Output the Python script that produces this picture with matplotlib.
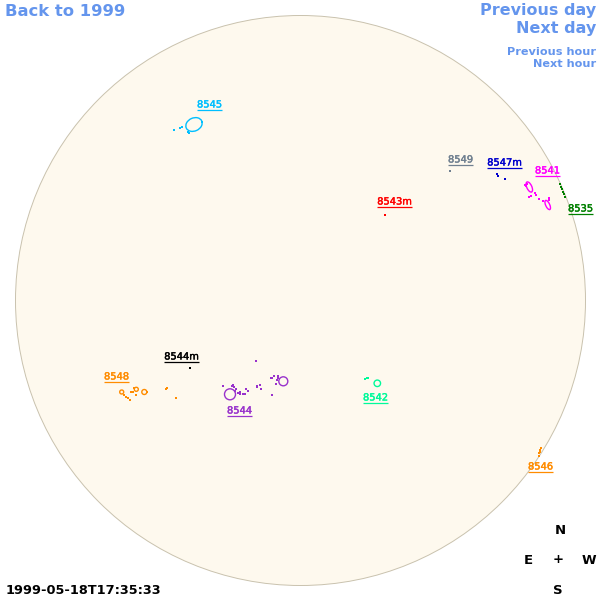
import matplotlib
matplotlib.use("Agg")
import matplotlib.pyplot as plt
import matplotlib.patheffects as pe
from matplotlib.patches import Circle, Ellipse

# active regions: label, colour, label centre (px)
nombres = ["8545", "8549", "8547m", "8541", "8535", "8543m", "8544m", "8548", "8544", "8542", "8546"]
colores = ["#00BFFF", "#708090", "#0000CD", "#FF00FF", "#008000", "#FF0000", "#000000", "#FF8C00", "#9932CC", "#00FA9A", "#FF8C00"]
label_x = [209.5, 460.5, 504.5, 547.5, 580.5, 394.5, 181.5, 116.5, 239.5, 375.5, 540.5]
label_y = [104.5, 159.5, 162.5, 170.5, 208.5, 201.5, 356.5, 376.5, 410.5, 397.5, 466.5]

# spots of each region, picture pixels
puntos_8545 = [(174.3, 129.7), (180, 127.7), (181.5, 126.5), (189, 132.7), (187.5, 131.5), (202, 122)]
puntos_8549 = [(450, 170.7)]
puntos_8547m = [(496.5, 174), (498, 176), (505, 179.3)]
puntos_8541 = [(525, 184.5), (526, 186), (527, 184), (528.5, 196.7), (530.5, 195.5), (535, 193), (536, 195), (539, 199), (543, 201), (549.3, 198), (549, 200)]
puntos_8535 = [(560, 184), (561, 186.5), (562, 189), (563, 191.5), (564, 194), (565.3, 197.3)]
puntos_8543m = [(385, 215)]
puntos_8544m = [(190, 367.7)]
puntos_8548 = [(134, 387.7), (131, 392), (132.5, 392), (135.7, 395), (124.3, 395), (126.3, 397), (127.5, 398), (129.7, 399.7), (147, 392), (166.7, 388), (166, 389), (175.7, 397.7)]
puntos_8544 = [(256.3, 361), (223, 386), (233.3, 385), (234, 387), (232, 386), (235, 391), (236, 389), (238.3, 393.3), (240, 394.3), (240, 392),
               (245.7, 389), (247.7, 391), (243.3, 394.3), (245, 393.5), (257, 386.7), (257, 385.5), (260, 385), (260.7, 389.3), (271.7, 395),
               (271.7, 378.3), (270.5, 378), (274.3, 375.7), (278.3, 375.7), (278.3, 378), (277, 380), (275.7, 384.3)]
puntos_8542 = [(365, 378.5), (366.5, 378), (368, 377.5)]
puntos_8546 = [(541, 447.5), (540, 450), (539, 453), (540, 452), (538.5, 456)]
puntos = [puntos_8545, puntos_8549, puntos_8547m, puntos_8541, puntos_8535, puntos_8543m, puntos_8544m, puntos_8548, puntos_8544, puntos_8542, puntos_8546]

# outlined spots: region index, x, y, width, height, angle
contornos = [
    (0, 194, 124.5, 17, 13, -25),
    (3, 529.3, 187, 5, 11, -25),
    (3, 547.7, 205, 4, 10, -25),
    (7, 121.7, 392, 4, 4, 0),
    (7, 136.3, 389.3, 4, 4, 0),
    (7, 144.3, 392, 5, 5, 0),
    (8, 230, 394.3, 11, 11, 0),
    (8, 283.3, 381.3, 9, 9, 0),
    (9, 377.3, 383.3, 6.5, 6.5, 0),
]

azul = "#6495ED"

fig = plt.figure(figsize=(6, 6), dpi=100)
ax = fig.add_axes([0, 0, 1, 1])
ax.set_xlim(0, 600)
ax.set_ylim(600, 0)
ax.axis("off")

# solar disc
ax.add_patch(Circle((300.5, 300.5), 285, facecolor="#FEF9EE", edgecolor="#C9C2AE", linewidth=0.7))

for i, lista in enumerate(puntos):
    xs = [p[0] for p in lista]
    ys = [p[1] for p in lista]
    ax.scatter(xs, ys, s=4.6, marker="s", color=colores[i], linewidths=0, zorder=3)

for reg, x, y, w, h, ang in contornos:
    ax.add_patch(Ellipse((x, y), w, h, angle=ang, fill=False, edgecolor=colores[reg], linewidth=1.0, zorder=3))

# region labels with underline sized from the text
textos = []
for i, n in enumerate(nombres):
    t = ax.text(label_x[i], label_y[i], n, color=colores[i], fontsize=7.1, ha="center", va="center",
                path_effects=[pe.withStroke(linewidth=0.3, foreground=colores[i])])
    textos.append(t)
fig.canvas.draw()
rend = fig.canvas.get_renderer()
inv = ax.transData.inverted()
for i, t in enumerate(textos):
    caja = t.get_window_extent(rend)
    x0 = inv.transform((caja.x0, 0))[0]
    x1 = inv.transform((caja.x1, 0))[0]
    ax.plot([x0, x1], [label_y[i] + 5.5, label_y[i] + 5.5], color=colores[i], linewidth=0.9, solid_capstyle="butt")

# navigation
ax.text(5, 11, "Back to 1999", color=azul, fontsize=11.8, fontweight="bold", ha="left", va="center")
ax.text(596, 11, "Previous day", color=azul, fontsize=11.5, fontweight="bold", ha="right", va="center")
ax.text(596, 28, "Next day", color=azul, fontsize=11.5, fontweight="bold", ha="right", va="center")
ax.text(596, 52, "Previous hour", color=azul, fontsize=8.1, fontweight="bold", ha="right", va="center")
ax.text(596, 64, "Next hour", color=azul, fontsize=8.1, fontweight="bold", ha="right", va="center")

# compass and time stamp
ax.text(560, 530, "N", fontsize=9.5, fontweight="bold", ha="center", va="center")
ax.text(528, 560, "E", fontsize=9.5, fontweight="bold", ha="center", va="center")
ax.text(558, 559.5, "+", fontsize=9.5, fontweight="bold", ha="center", va="center")
ax.text(589, 560, "W", fontsize=9.5, fontweight="bold", ha="center", va="center")
ax.text(558, 590, "S", fontsize=9.5, fontweight="bold", ha="center", va="center")
ax.text(6, 590, "1999-05-18T17:35:33", fontsize=9.3, fontweight="bold", ha="left", va="center")

fig.savefig("out.png", dpi=100)
